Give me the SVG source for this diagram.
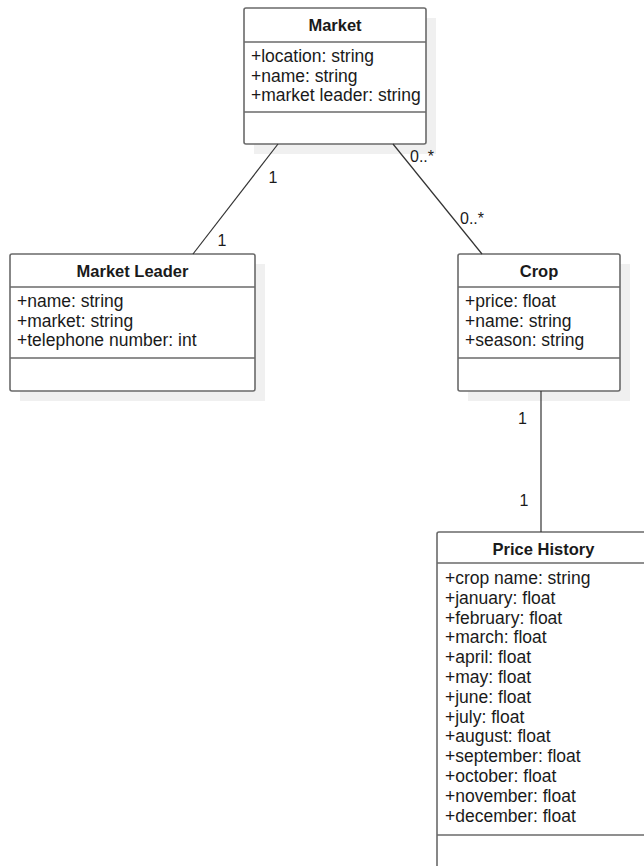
<svg xmlns="http://www.w3.org/2000/svg" width="644" height="866" viewBox="0 0 644 866">
<style>
.shadow{fill:#f0f0f0;stroke:none}
.box{fill:#ffffff;stroke:#6a6a6a;stroke-width:1.6}
.sep{stroke:#6a6a6a;stroke-width:1.6}
.title{font-family:"Liberation Sans",Arial,sans-serif;font-size:16.5px;font-weight:bold;fill:#1a1a1a;text-anchor:middle}
.attr{font-family:"Liberation Sans",Arial,sans-serif;font-size:17.5px;fill:#1a1a1a}
.conn{stroke:#333333;stroke-width:1.2;fill:none}
.lbl{font-family:"Liberation Sans",Arial,sans-serif;font-size:16px;fill:#1a1a1a}
</style>
<rect width="644" height="866" fill="#ffffff"/>
<g id="market">
<rect class="shadow" x="254" y="18" width="182" height="136"/>
<rect class="box" x="244" y="8" width="182" height="136" rx="2"/>
<line class="sep" x1="244" y1="42" x2="426" y2="42"/>
<line class="sep" x1="244" y1="112" x2="426" y2="112"/>
<text class="title" x="335" y="31">Market</text>
<text class="attr" x="251" y="62">+location: string</text>
<text class="attr" x="251" y="81.5">+name: string</text>
<text class="attr" x="251" y="101">+market leader: string</text>
</g>
<g id="market-leader">
<rect class="shadow" x="20" y="264" width="245" height="137"/>
<rect class="box" x="10" y="254" width="245" height="137" rx="2"/>
<line class="sep" x1="10" y1="287" x2="255" y2="287"/>
<line class="sep" x1="10" y1="358" x2="255" y2="358"/>
<text class="title" x="132.5" y="277">Market Leader</text>
<text class="attr" x="17" y="307">+name: string</text>
<text class="attr" x="17" y="326.5">+market: string</text>
<text class="attr" x="17" y="346">+telephone number: int</text>
</g>
<g id="crop">
<rect class="shadow" x="468" y="264" width="162" height="137"/>
<rect class="box" x="458" y="254" width="162" height="137" rx="2"/>
<line class="sep" x1="458" y1="287" x2="620" y2="287"/>
<line class="sep" x1="458" y1="358" x2="620" y2="358"/>
<text class="title" x="539" y="277">Crop</text>
<text class="attr" x="465" y="307">+price: float</text>
<text class="attr" x="465" y="326.5">+name: string</text>
<text class="attr" x="465" y="346">+season: string</text>
</g>
<g id="price-history">
<rect class="box" x="437" y="532" width="213" height="360" rx="2"/>
<line class="sep" x1="437" y1="563" x2="650" y2="563"/>
<line class="sep" x1="437" y1="835" x2="650" y2="835"/>
<text class="title" x="543.5" y="555">Price History</text>
<text class="attr" x="445" y="584">+crop name: string</text>
<text class="attr" x="445" y="603.8">+january: float</text>
<text class="attr" x="445" y="623.6">+february: float</text>
<text class="attr" x="445" y="643.4">+march: float</text>
<text class="attr" x="445" y="663.2">+april: float</text>
<text class="attr" x="445" y="683">+may: float</text>
<text class="attr" x="445" y="702.8">+june: float</text>
<text class="attr" x="445" y="722.6">+july: float</text>
<text class="attr" x="445" y="742.4">+august: float</text>
<text class="attr" x="445" y="762.2">+september: float</text>
<text class="attr" x="445" y="782">+october: float</text>
<text class="attr" x="445" y="801.8">+november: float</text>
<text class="attr" x="445" y="821.6">+december: float</text>
</g>
<g id="connectors">
<line class="conn" x1="278" y1="144" x2="193" y2="254"/>
<line class="conn" x1="393" y1="144" x2="482" y2="254"/>
<line class="conn" x1="541" y1="391" x2="541" y2="532"/>
<text class="lbl" x="273" y="183" text-anchor="middle">1</text>
<text class="lbl" x="222" y="246" text-anchor="middle">1</text>
<text class="lbl" x="410" y="162">0..*</text>
<text class="lbl" x="460" y="224">0..*</text>
<text class="lbl" x="522.5" y="424" text-anchor="middle">1</text>
<text class="lbl" x="524" y="506" text-anchor="middle">1</text>
</g>
</svg>
